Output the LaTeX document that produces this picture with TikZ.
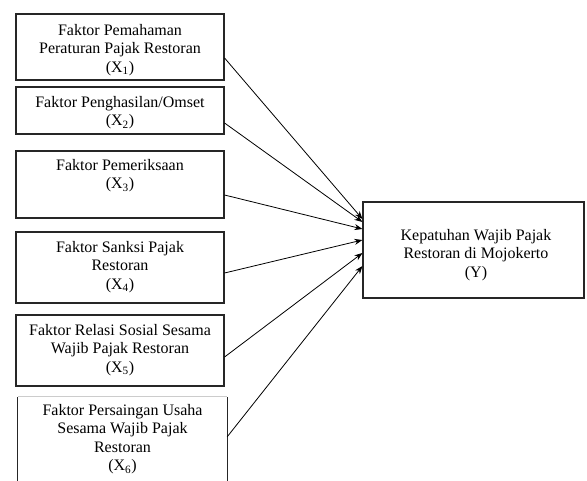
\documentclass[tikz,border=0pt]{standalone}
\usepackage{fontspec}
\setmainfont{Liberation Serif}
\usetikzlibrary{arrows.meta}
\begin{document}
\begin{tikzpicture}[x=1pt,y=-1pt,
  box/.style={draw=black!85, line width=1.1pt, minimum width=208pt, inner sep=0pt},
  lbl/.style={align=center, font=\fontsize{16}{18.4}\selectfont, inner sep=0pt, anchor=north},
  conn/.style={line width=0.8pt, -{Stealth[length=8pt,width=6pt]}}]
\clip (0,0) rectangle (587,480);
\fill[white] (0,0) rectangle (587,480);
% boxes
\node[box, minimum height=66pt] (b1) at (120,47) {};
\node[box, minimum height=47pt] (b2) at (120,110.5) {};
\node[box, minimum height=67pt] (b3) at (120,184.5) {};
\node[box, minimum height=71pt] (b4) at (120,267.5) {};
\node[box, minimum height=71pt] (b5) at (120,350.5) {};
\node[inner sep=0pt, minimum width=209pt, minimum height=103pt] (b6) at (122.5,448.5) {};
\draw[black!85, line width=1.1pt] (b6.south west) -- (b6.north west);
\draw[black!85, line width=1.1pt] (b6.south east) -- (b6.north east);
\draw[black!20, line width=0.8pt] (b6.north west) -- (b6.north east);
\node[box, minimum width=221pt, minimum height=96pt] (y) at (473.5,250) {};
% labels
\node[lbl] (t1) at (120,24) {Faktor Pemahaman\\Peraturan Pajak Restoran\\(X\textsubscript{1})};
\node[lbl] (t2) at (120,96) {Faktor Penghasilan/Omset\\(X\textsubscript{2})};
\node[lbl] (t3) at (120,159) {Faktor Pemeriksaan\\(X\textsubscript{3})};
\node[lbl] (t4) at (120,241) {Faktor Sanksi Pajak\\Restoran\\(X\textsubscript{4})};
\node[lbl] (t5) at (120,324) {Faktor Relasi Sosial Sesama\\Wajib Pajak Restoran\\(X\textsubscript{5})};
\node[lbl] (t6) at (122.5,404) {Faktor Persaingan Usaha\\Sesama Wajib Pajak\\Restoran\\(X\textsubscript{6})};
\node[lbl] (ty) at (476,229) {Kepatuhan Wajib Pajak\\Restoran di Mojokerto\\(Y)};
% connectors
\draw[conn] ([yshift=-11pt]b1.east) -- ([yshift=31pt]y.west);
\draw[conn] ([yshift=-12.5pt]b2.east) -- ([yshift=28pt]y.west);
\draw[conn] ([yshift=-10.5pt]b3.east) -- ([yshift=21pt]y.west);
\draw[conn] ([yshift=-5.5pt]b4.east) -- ([yshift=10pt]y.west);
\draw[conn] ([yshift=-6.5pt]b5.east) -- ([yshift=-3pt]y.west);
\draw[conn] ([yshift=-40pt]b6.north east) -- ([yshift=-16pt]y.west);
\end{tikzpicture}
\end{document}
